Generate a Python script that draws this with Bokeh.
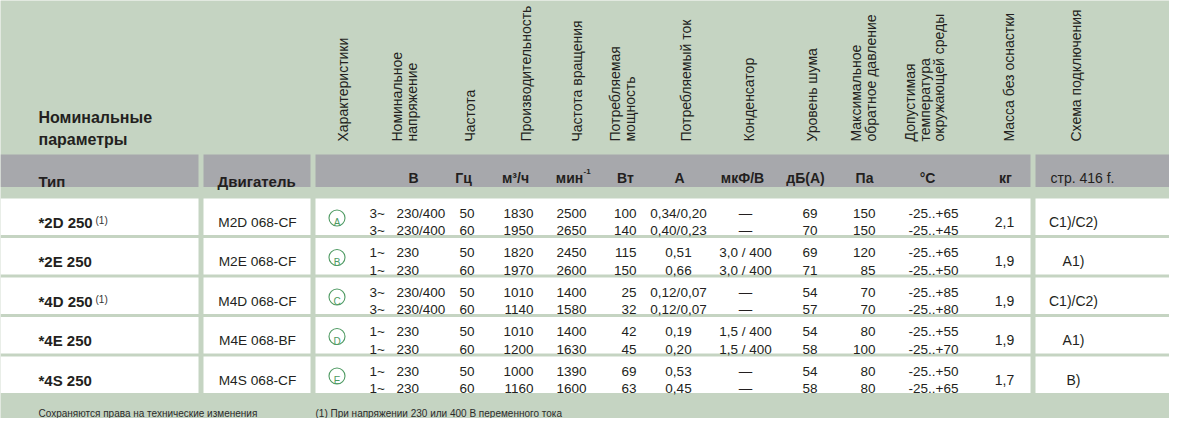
from bokeh.plotting import figure
from bokeh.models import ColumnDataSource, Range1d
from bokeh.core.properties import value
from bokeh.embed import file_html
from bokeh.resources import INLINE
import math

# ---------------- data ----------------
types = ["*2D 250", "*2E 250", "*4D 250", "*4E 250", "*4S 250"]
type_notes = ["(1)", "", "(1)", "", ""]
motors = ["M2D 068-CF", "M2E 068-CF", "M4D 068-CF", "M4E 068-BF", "M4S 068-CF"]
char_marks = ["A", "B", "C", "D", "E"]
phases = [["3~", "3~"], ["1~", "1~"], ["3~", "3~"], ["1~", "1~"], ["1~", "1~"]]
voltage = [["230/400", "230/400"], ["230", "230"], ["230/400", "230/400"], ["230", "230"], ["230", "230"]]
frequency = [[50, 60], [50, 60], [50, 60], [50, 60], [50, 60]]
airflow = [[1830, 1950], [1820, 1970], [1010, 1140], [1010, 1200], [1000, 1160]]
speed = [[2500, 2650], [2450, 2600], [1400, 1580], [1400, 1630], [1390, 1600]]
power = [[100, 140], [115, 150], [25, 32], [42, 45], [69, 63]]
current = [["0,34/0,20", "0,40/0,23"], ["0,51", "0,66"], ["0,12/0,07", "0,12/0,07"], ["0,19", "0,20"], ["0,53", "0,45"]]
capacitor = [["—", "—"], ["3,0 / 400", "3,0 / 400"], ["—", "—"], ["1,5 / 400", "1,5 / 400"], ["—", "—"]]
noise = [[69, 70], [69, 71], [54, 57], [54, 58], [54, 58]]
pressure = [[150, 150], [120, 85], [70, 70], [80, 100], [80, 80]]
temperature = [["-25..+65", "-25..+45"], ["-25..+65", "-25..+50"], ["-25..+85", "-25..+80"],
               ["-25..+55", "-25..+70"], ["-25..+50", "-25..+65"]]
mass = ["2,1", "1,9", "1,9", "1,9", "1,7"]
scheme = ["C1)/C2)", "A1)", "C1)/C2)", "A1)", "B)"]

title_lines = ["Номинальные", "параметры"]
col_type_label = "Тип"
col_motor_label = "Двигатель"
vertical_headers = [["Характеристики"], ["Номинальное", "напряжение"], ["Частота"],
                    ["Производительность"], ["Частота вращения"], ["Потребляемая", "мощность"],
                    ["Потребляемый ток"], ["Конденсатор"], ["Уровень шума"],
                    ["Максимальное", "обратное давление"],
                    ["Допустимая", "температура", "окружающей среды"],
                    ["Масса без оснастки"], ["Схема подключения"]]
units = ["В", "Гц", "м³/ч", "мин", "Вт", "А", "мкФ/В", "дБ(А)", "Па", "°C", "кг"]
unit_sup = "-1"
page_ref = "стр. 416 f."
footer_left = "Сохраняются права на технические изменения"
footer_note = "(1) При напряжении 230 или 400 В переменного тока"

# ---------------- layout / style ----------------
BG = "#c5d4c2"
BAND = "#a7a8ac"
WHITE = "#ffffff"
INK = "#231f20"
GREEN = "#4e9a62"
FONT = "Liberation Sans"

segments = [(0, 198), (203, 310), (315, 1030), (1035, 1185)]
BAND_TOP, BAND_BOT = 154, 186.5
ROW_TOP0, ROW_PITCH, ROW_H = 198, 39.5, 36.5
LINE1, LINE2 = 14.5, 32.0

vh_base_x = [[342], [396.5, 411], [469.5], [525], [576.5], [614, 629], [685], [748], [811.5],
             [855, 870], [909.5, 924, 938.5], [1008], [1075]]
VH_START_Y = 141
unit_x = [413, 463, 515, 569, 625, 679, 742, 805, 864, 927, 1005]

p = figure(width=1169, height=418, output_backend="svg", toolbar_location=None,
           x_range=Range1d(0, 1169), y_range=Range1d(418, 0),
           x_axis_location=None, y_axis_location=None, min_border=0)
p.grid.visible = False
p.outline_line_color = None
p.background_fill_color = BG
p.border_fill_color = BG


def add_text(xs, ys, texts, size, bold=False, align="left", color=INK, angle=0.0):
    src = ColumnDataSource(dict(x=xs, y=ys, t=texts))
    p.text(x="x", y="y", text="t", source=src, text_font=value(FONT),
           text_font_size=f"{size}px", text_font_style="bold" if bold else "normal",
           text_align=align, text_baseline="alphabetic", text_color=color, angle=angle)


# band and white rows
n = len(types)
row_tops = [ROW_TOP0 + i * ROW_PITCH for i in range(n)]
lefts, rights, tops, bots, cols = [], [], [], [], []
for (l, r) in segments:
    lefts.append(l); rights.append(r); tops.append(BAND_TOP); bots.append(BAND_BOT); cols.append(BAND)
    for t in row_tops:
        lefts.append(l); rights.append(r); tops.append(t); bots.append(t + ROW_H); cols.append(WHITE)
p.quad(left=lefts, right=rights, top=tops, bottom=bots, fill_color=cols, line_color=None)

# titles
add_text([38, 38], [117, 139], title_lines, 16, bold=True)
add_text([38, 217], [181, 181], [col_type_label, col_motor_label], 15, bold=True)

# vertical headers
vx, vy, vt = [], [], []
for lines, xs in zip(vertical_headers, vh_base_x):
    for line, x in zip(lines, xs):
        vx.append(x); vy.append(VH_START_Y); vt.append(line)
add_text(vx, vy, vt, 14, angle=math.pi / 2)

# units row
add_text(unit_x, [177] * len(units), units, 14, bold=True, align="center")
add_text([583], [171], [unit_sup], 8, bold=True)
add_text([1050], [177], [page_ref], 14)

# per-row cells
add_text([38] * n, [t + 23.5 for t in row_tops], types, 15, bold=True)
add_text([95] * n, [t + 21.5 for t in row_tops], type_notes, 10, color="#333333")
add_text([257] * n, [t + 23.5 for t in row_tops], motors, 13.7, align="center")
p.scatter(x=[336.5] * n, y=[t + 19.5 for t in row_tops], size=16, marker="circle",
          fill_color=WHITE, line_color=GREEN, line_width=1.1)
add_text([336.5] * n, [t + 24 for t in row_tops], char_marks, 10, align="center", color=GREEN)
add_text([1004] * n, [t + 23 for t in row_tops], mass, 14, align="center")
add_text([1073] * n, [t + 23 for t in row_tops], scheme, 14, align="center")

two_line_cols = [(phases, 369, "left"), (voltage, 396, "left"), (frequency, 459, "left"),
                 (airflow, 533, "right"), (speed, 586, "right"), (power, 636, "right"),
                 (current, 678, "center"), (capacitor, 745, "center"), (noise, 802, "left"),
                 (pressure, 875, "right"), (temperature, 908, "left")]
for data, x, al in two_line_cols:
    xs, ys, ts = [], [], []
    for t, pair in zip(row_tops, data):
        xs += [x, x]; ys += [t + LINE1, t + LINE2]; ts += [str(pair[0]), str(pair[1])]
    add_text(xs, ys, ts, 13.5, align=al)

# footer
add_text([38, 315], [413, 413], [footer_left, footer_note], 10, color="#2b2b2b")

open("out.html", "w").write(file_html(p, INLINE))
